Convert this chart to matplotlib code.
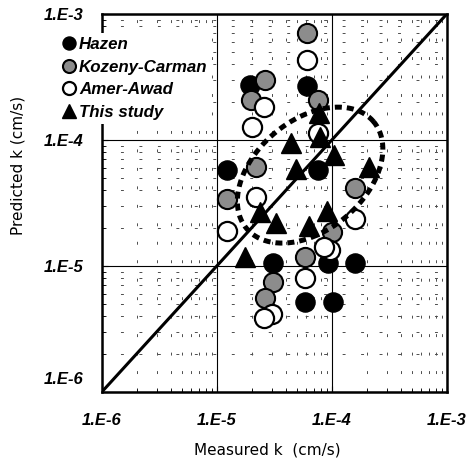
import numpy as np
import matplotlib.pyplot as plt
import matplotlib.transforms as mtransforms
from matplotlib.ticker import FixedLocator, LogLocator, NullFormatter

# measured k vs predicted k (cm/s)
hazen_x = [1.94e-5, 6.07e-5, 1.22e-5, 7.55e-5, 3.07e-5, 9.2e-5, 1.58e-4, 5.82e-5, 1.02e-4]
hazen_y = [2.74e-4, 2.68e-4, 5.78e-5, 5.78e-5, 1.06e-5, 1.06e-5, 1.06e-5, 5.18e-6, 5.18e-6]

kozeny_x = [2.61e-5, 1.98e-5, 6.07e-5, 7.55e-5, 2.18e-5, 1.22e-5, 1.58e-4, 1.0e-4, 5.82e-5, 3.07e-5, 2.61e-5]
kozeny_y = [2.99e-4, 2.07e-4, 7.06e-4, 2.07e-4, 6.1e-5, 3.4e-5, 4.16e-5, 1.86e-5, 1.18e-5, 7.46e-6, 5.57e-6]

amer_x = [6.07e-5, 2.56e-5, 2.01e-5, 7.55e-5, 2.18e-5, 1.22e-5, 1.58e-4, 9.6e-5, 8.5e-5, 5.82e-5, 3.0e-5, 2.56e-5]
amer_y = [4.32e-4, 1.83e-4, 1.27e-4, 1.14e-4, 3.53e-5, 1.9e-5, 2.36e-5, 1.34e-5, 1.42e-5, 8.04e-6, 4.16e-6, 3.87e-6]

study_x = [7.7e-5, 7.87e-5, 4.4e-5, 1.04e-4, 4.86e-5, 2.1e-4, 2.37e-5, 3.26e-5, 1.75e-5, 9.05e-5, 6.3e-5]
study_y = [1.64e-4, 1.06e-4, 9.46e-5, 7.6e-5, 5.89e-5, 6.1e-5, 2.68e-5, 2.19e-5, 1.18e-5, 2.73e-5, 2.07e-5]

tick_vals = [1e-6, 1e-5, 1e-4, 1e-3]
tick_labels = ['1.E-6', '1.E-5', '1.E-4', '1.E-3']

# dashed ellipse around "this study" points (log10 centre, semi-axes in px, tilt)
ell_center = (-4.19, -4.28)
ell_axes = (83, 55)
ell_angle = 40

fig = plt.figure(figsize=(4.74, 4.61), dpi=100)
ax = fig.add_axes([0.215, 0.150, 0.728, 0.820])
ax.set_xscale('log')
ax.set_yscale('log')
ax.set_xlim(1e-6, 1e-3)
ax.set_ylim(1e-6, 1e-3)

# grid
ax.xaxis.set_minor_locator(LogLocator(base=10, subs=np.arange(2, 10)))
ax.yaxis.set_minor_locator(LogLocator(base=10, subs=np.arange(2, 10)))
ax.xaxis.set_minor_formatter(NullFormatter())
ax.yaxis.set_minor_formatter(NullFormatter())
ax.grid(which='major', color='black', lw=0.8, zorder=0)
ax.grid(which='minor', color='0.3', lw=0.7, linestyle=(0, (3, 16)), zorder=0)
ax.set_axisbelow(True)

ms = 13.8
ax.plot(hazen_x, hazen_y, 'o', ms=ms, mfc='black', mec='black', label='Hazen', zorder=3)
ax.plot(kozeny_x, kozeny_y, 'o', ms=ms, mfc='#8c8c8c', mec='black', mew=1.5,
        label='Kozeny-Carman', zorder=3)
ax.plot(amer_x, amer_y, 'o', ms=ms, mfc='white', mec='black', mew=1.6,
        label='Amer-Awad', zorder=3)
ax.plot(study_x, study_y, '^', ms=ms, mfc='black', mec='black', label='This study', zorder=3)

# 1:1 line
ax.plot([1e-6, 1e-3], [1e-6, 1e-3], color='black', lw=2.2, zorder=4)

# ellipse
px_x = 0.728 * 474 / 3
px_y = 0.820 * 461 / 3
t = np.linspace(0, 2 * np.pi, 300)
th = np.radians(ell_angle)
u = ell_axes[0] * np.cos(t)
v = ell_axes[1] * np.sin(t)
ex = ell_center[0] + (u * np.cos(th) - v * np.sin(th)) / px_x
ey = ell_center[1] + (u * np.sin(th) + v * np.cos(th)) / px_y
ax.plot(10 ** ex, 10 ** ey, color='black', lw=3.6, linestyle=(0, (1.4, 1.0)),
        dash_capstyle='butt', zorder=4)

ax.xaxis.set_major_locator(FixedLocator(tick_vals))
ax.yaxis.set_major_locator(FixedLocator(tick_vals))
tick_font = dict(family='Liberation Sans', weight='bold', style='italic', size=12)
ax.set_xticklabels(tick_labels, fontdict=tick_font)
ax.set_yticklabels(tick_labels, fontdict=tick_font)
ax.tick_params(which='both', direction='in', top=False, right=False)
ax.tick_params(which='major', length=4)
ax.tick_params(which='minor', length=3)
ax.tick_params(axis='x', pad=15)
ax.tick_params(axis='y', pad=13)

# bottom y label sits a bit higher in the original
lab = ax.get_yticklabels()[0]
lab.set_transform(lab.get_transform() +
                  mtransforms.ScaledTranslation(0, 10 / 72, fig.dpi_scale_trans))

for sp in ax.spines.values():
    sp.set_linewidth(1.8)

ax.set_xlabel('Measured k  (cm/s)', fontsize=11, family='DejaVu Sans')
ax.set_ylabel('Predicted k (cm/s)', fontsize=11, family='DejaVu Sans')
ax.xaxis.set_label_coords(0.48, -0.135)
ax.yaxis.set_label_coords(-0.22, 0.60)

leg = ax.legend(loc='upper left', bbox_to_anchor=(-0.125, 0.95), frameon=True,
                fancybox=False, edgecolor='none', facecolor='white', framealpha=1,
                markerscale=0.68, handlelength=0.7, handletextpad=0.25,
                labelspacing=0.45, borderpad=0.25, borderaxespad=0,
                prop=dict(family='Liberation Sans', weight='bold', style='italic', size=12.2))
leg.set_zorder(10)

fig.savefig('out.png', dpi=100)
